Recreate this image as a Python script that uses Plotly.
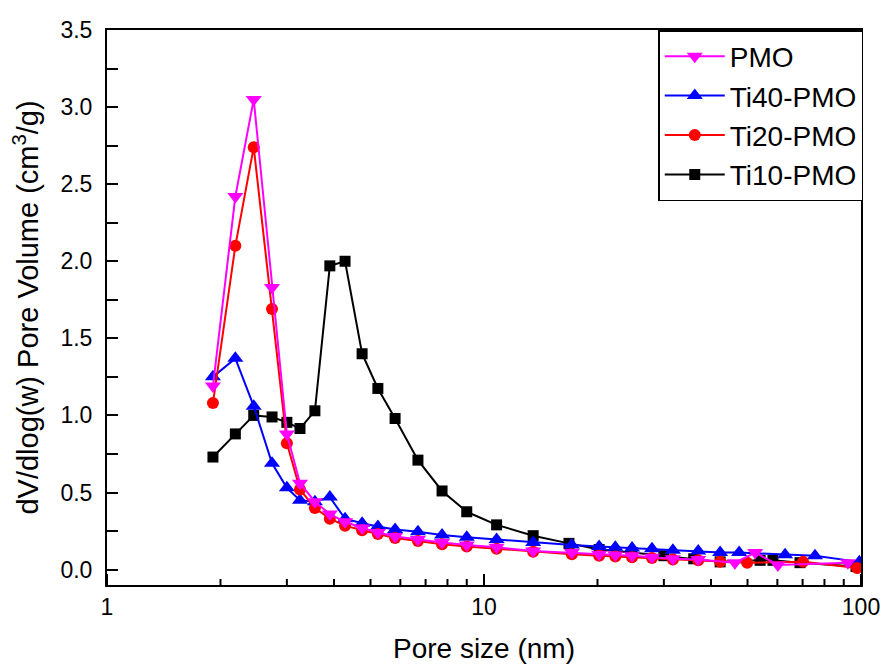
import plotly.graph_objects as go

# BJH pore size distributions (pore width in nm, dV/dlog(w) in cm3/g)
pmo_size = [1.91, 2.19, 2.45, 2.74, 3.0, 3.25, 3.56, 3.90, 4.28, 4.75, 5.23, 5.81,
            6.68, 7.74, 9.0, 10.8, 13.5, 17.1, 20.2, 22.3, 24.7, 27.9, 31.7, 37.0,
            46.3, 52.4, 60.2, 92.3]
pmo_vol = [1.19, 2.42, 3.05, 1.83, 0.88, 0.56, 0.44, 0.36, 0.31, 0.27, 0.24, 0.215,
           0.195, 0.175, 0.16, 0.145, 0.12, 0.11, 0.10, 0.095, 0.09, 0.08, 0.07, 0.065,
           0.045, 0.11, 0.03, 0.045]

ti40_size = [1.91, 2.19, 2.45, 2.74, 3.0, 3.25, 3.56, 3.90, 4.28, 4.75, 5.23, 5.81,
             6.68, 7.74, 9.0, 10.8, 13.5, 17.1, 20.2, 22.3, 24.7, 27.9, 31.7, 37.0,
             42.3, 47.5, 62.9, 75.5, 99.0]
ti40_vol = [1.25, 1.37, 1.06, 0.69, 0.53, 0.45, 0.44, 0.47, 0.33, 0.30, 0.28, 0.26,
            0.245, 0.225, 0.21, 0.195, 0.175, 0.16, 0.15, 0.145, 0.14, 0.135, 0.125, 0.12,
            0.11, 0.11, 0.097, 0.09, 0.05]

ti20_size = [1.91, 2.19, 2.45, 2.74, 3.0, 3.25, 3.56, 3.90, 4.28, 4.75, 5.23, 5.81,
             6.68, 7.74, 9.0, 10.8, 13.5, 17.1, 20.2, 22.3, 24.7, 27.9, 31.7, 37.0,
             42.3, 49.9, 70.2, 97.6]
ti20_vol = [1.08, 2.10, 2.74, 1.69, 0.82, 0.52, 0.40, 0.33, 0.285, 0.255, 0.23, 0.205,
            0.185, 0.165, 0.15, 0.135, 0.115, 0.10, 0.09, 0.085, 0.08, 0.075, 0.065, 0.06,
            0.05, 0.045, 0.05, 0.01]

ti10_size = [1.91, 2.19, 2.45, 2.74, 3.0, 3.25, 3.56, 3.90, 4.28, 4.75, 5.23, 5.81,
             6.68, 7.74, 9.0, 10.8, 13.5, 16.8, 20.2, 24.7, 30.0, 36.0, 42.3, 54.0,
             58.4, 68.9, 97.0]
ti10_vol = [0.73, 0.88, 1.0, 0.99, 0.955, 0.915, 1.03, 1.97, 2.0, 1.40, 1.175, 0.98,
            0.71, 0.51, 0.375, 0.29, 0.22, 0.17, 0.13, 0.11, 0.09, 0.07, 0.05, 0.06,
            0.06, 0.045, 0.02]

x_ticks = [1, 10, 100]
x_labels = ["1", "10", "100"]
x_minor = [2, 3, 4, 5, 6, 7, 8, 9, 20, 30, 40, 50, 60, 70, 80, 90]
y_ticks = [0.0, 0.5, 1.0, 1.5, 2.0, 2.5, 3.0, 3.5]

series = [
    # (name, x, y, colour, symbol, size, legend rank)
    ("Ti10-PMO", ti10_size, ti10_vol, "#000000", "square", 11, 4),
    ("Ti40-PMO", ti40_size, ti40_vol, "#0000FF", "triangle-up", 14, 2),
    ("Ti20-PMO", ti20_size, ti20_vol, "#FF0000", "circle", 12, 3),
    ("PMO", pmo_size, pmo_vol, "#FF00FF", "triangle-down", 14, 1),
]

fig = go.Figure()
for name, xs, ys, col, sym, sz, rank in series:
    fig.add_trace(go.Scatter(
        x=xs, y=ys, name=name, mode="lines+markers",
        line=dict(color=col, width=2),
        marker=dict(symbol=sym, size=sz, color=col, line=dict(width=0)),
        legendrank=rank,
    ))

font_family = "Liberation Sans, Arial, sans-serif"
W, H = 885, 667
MARGIN = dict(l=107, r=24, t=30, b=82)
plot_h = H - MARGIN["t"] - MARGIN["b"]

# inward tick marks along the log pore-size axis (major and minor)
tick_shapes = []
for vals, length in ((x_ticks, 11), (x_minor, 6)):
    for v in vals:
        tick_shapes.append(dict(
            type="line", xref="x", yref="paper",
            x0=v, x1=v, y0=0, y1=length / plot_h,
            line=dict(color="black", width=2), layer="above",
        ))

fig.update_layout(
    width=W, height=H,
    margin=MARGIN,
    paper_bgcolor="white", plot_bgcolor="white",
    font=dict(family=font_family, color="black"),
    showlegend=True,
    shapes=tick_shapes,
    legend=dict(
        x=1.003, xanchor="right", y=1, yanchor="top",
        bordercolor="black", borderwidth=1.5,
        bgcolor="white",
        font=dict(size=28, family=font_family),
        itemwidth=60,
        tracegroupgap=0,
    ),
    xaxis=dict(
        type="log", range=[0, 2],
        tickmode="array", tickvals=x_ticks, ticktext=x_labels,
        ticks="inside", ticklen=11, tickwidth=2, tickcolor="black",
        showline=True, linewidth=2, linecolor="black", mirror=True,
        showgrid=False, zeroline=False,
        tickfont=dict(size=23),
        title=dict(text="Pore size (nm)", font=dict(size=28), standoff=20),
        automargin=False,
    ),
    yaxis=dict(
        range=[-0.1, 3.5],
        tickvals=y_ticks, tickformat=".1f",
        ticks="inside", ticklen=11, tickwidth=2, tickcolor="black",
        minor=dict(ticks="inside", ticklen=11, tickwidth=2, tickcolor="black",
                   dtick=0.25, tick0=0, showgrid=False),
        showline=True, linewidth=2, linecolor="black", mirror=True,
        showgrid=False, zeroline=False,
        tickfont=dict(size=23),
        ticklabelstandoff=8,
        title=dict(text="dV/dlog(w) Pore Volume (cm<sup>3</sup>/g)", font=dict(size=29),
                   standoff=13),
        automargin=False,
    ),
)

fig.write_html("out.html")
